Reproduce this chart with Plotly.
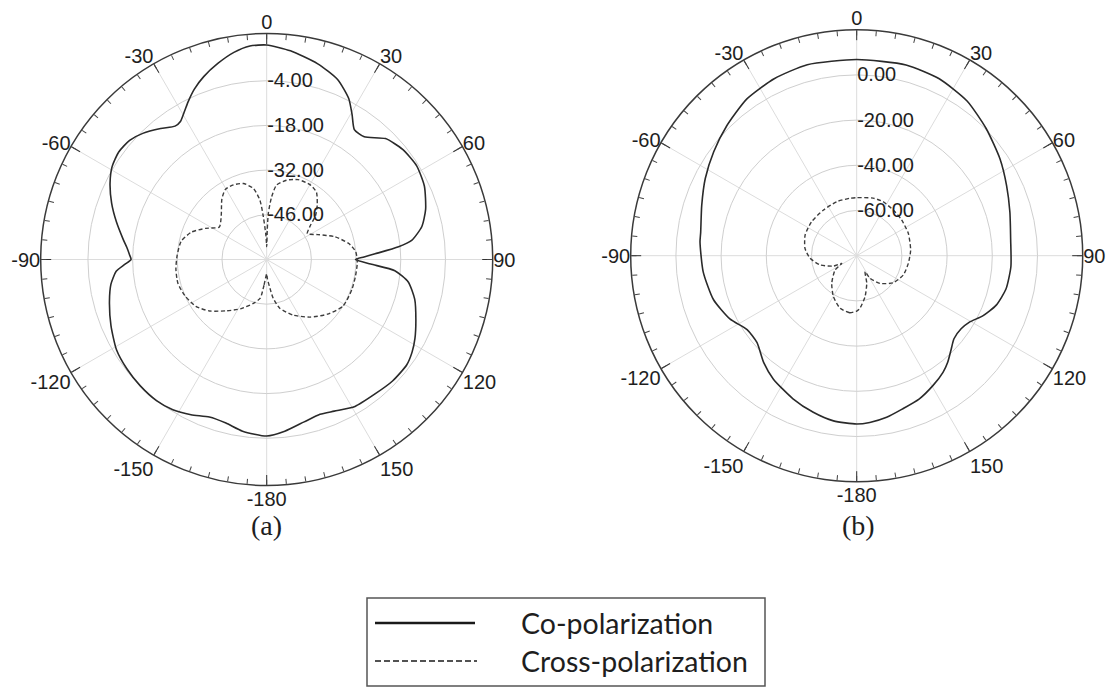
import plotly.graph_objects as go

# ---------------- data (angles in degrees, levels in dB) ----------------
co_a_theta = [-180, -172, -166, -160, -154, -148, -142, -135, -128, -121,
              -113, -105, -99, -94.5, -92, -90, -88, -85, -82, -76,
              -70, -64, -59, -54, -49, -44.5, -39, -34.5, -32, -29,
              -26.5, -23, -19, -14, -9, -4.5, 0, 6.5, 14.5, 21.5,
              27, 30.5, 34, 38.5, 44.5, 51, 58, 65, 72.5, 78,
              82.5, 84.5, 87, 88.5, 90, 92.5, 95, 99, 105, 112,
              118, 122.5, 127, 134, 141, 149, 156, 161, 167, 174, 180]
co_a_db = [-4.7, -5.7, -7.2, -7.5, -5.9, -4.5, -3.9, -4.0, -4.4, -5.1,
           -7.0, -9.0, -10.6, -12.7, -15.5, -17.5, -17.0, -16.0, -14.6, -11.5,
           -8.3, -5.4, -3.5, -2.7, -3.1, -4.6, -7.2, -9.3, -9.0, -6.9,
           -4.8, -2.0, 0.6, 3.3, 5.7, 7.1, 7.2, 5.8, 3.4, 0.6,
           -3.4, -7.3, -10.9, -10.9, -6.9, -5.2, -4.6, -5.5, -7.8, -10.3,
           -14.2, -18.5, -26.0, -29.5, -32.2, -27.4, -19.7, -15.1, -12.0, -9.6,
           -7.4, -6.0, -5.1, -5.2, -5.9, -6.3, -8.0, -8.7, -7.8, -5.9, -4.7]

cx_a_theta = [-180, -174, -170.5, -163, -152, -142, -132, -123.5, -114, -105,
              -96, -87.5, -78, -70, -63, -55.5, -46, -36.5, -30.5, -24,
              -17, -10.5, -6.5, -4.5, -1.7, 0, 1.1, 2, 4.5, 7.5,
              14, 21.5, 30, 36.5, 43, 48, 52, 57.5, 64, 71.5,
              79, 85, 92, 100.5, 109.5, 121.5, 132, 143, 154.5, 165,
              170.5, 173.5, 178, 180]
cx_a_db = [-55.5, -51.9, -47.7, -45.6, -42.5, -39.6, -35.9, -33.4, -32.0, -31.2,
           -31.4, -31.9, -32.6, -34.9, -38.5, -42.0, -40.2, -36.4, -34.5, -34.4,
           -35.1, -37.4, -41.3, -46.5, -52.7, -56.0, -50.6, -45.5, -40.3, -36.5,
           -34.4, -33.1, -32.9, -33.8, -36.8, -39.4, -42.6, -44.9, -42.2, -37.5,
           -33.8, -32.0, -31.6, -31.7, -31.7, -32.0, -34.4, -37.4, -40.7, -44.2,
           -47.7, -50.9, -54.0, -55.5]

co_b_theta = [-180, -172, -164.5, -156, -146, -139, -131, -124, -116.5, -107,
              -96, -85, -81.5, -72, -63, -54, -45, -35, -25, -14.5,
              0, 14.5, 25, 35.5, 45.5, 56, 65, 74, 84, 94,
              102.5, 109.5, 115.5, 120.5, 125, 130.5, 134.5, 139.5, 143.5, 149.5,
              156.5, 163.5, 169.5, 175.5, 180]
co_b_db = [-5.5, -6.2, -8.1, -10.7, -14.1, -17.3, -21.5, -21.5, -17.3, -13.7,
           -11.7, -10.4, -10.2, -7.9, -4.8, -1.8, 1.3, 4.7, 6.4, 7.3,
           6.8, 7.2, 6.4, 4.1, 0.3, -3.5, -6.8, -9.5, -11.5, -11.6,
           -12.3, -14.5, -18.2, -22.1, -23.6, -23.4, -21.3, -18.0, -15.8, -13.4,
           -10.8, -9.2, -7.3, -6.0, -5.5]

cx_b_theta = [-180, -173, -162.5, -150.5, -138, -123.5, -117, -114, -104, -93,
              -82, -68, -53, -36, -20, -6.5, 0, 16, 26, 41,
              51.5, 66.5, 84, 98.5, 112.5, 126.5, 140, 149.5, 152.5, 160,
              168.5, 176.5, 180]
cx_b_db = [-55.5, -54.6, -55.6, -59.1, -63.5, -68.5, -72.6, -68.7, -63.2, -59.3,
           -56.9, -55.4, -55.0, -55.0, -54.5, -54.4, -54.3, -53.5, -53.4, -54.2,
           -54.6, -55.1, -56.0, -56.9, -57.7, -59.9, -64.0, -68.4, -72.0, -67.0,
           -61.5, -56.7, -55.5]

angle_ticks = [0, 30, 60, 90, 120, 150, 180, 210, 240, 270, 300, 330]
angle_labels = ["0", "30", "60", "90", "120", "150", "-180", "-150", "-120", "-90", "-60", "-30"]
minor_ticks = list(range(0, 360, 5))

r_range_a = [-60, 10.8]
r_ticks_a = [-46, -32, -18, -4]
r_range_b = [-80, 20]
r_ticks_b = [-60, -40, -20, 0]

series_names = ["Co-polarization", "Cross-polarization"]
panel_labels = ["(a)", "(b)"]

# ---------------- figure ----------------
OFF = 8                      # page body margin of the browser
W, H = 1120 - OFF, 688 - OFF
CO_COLOR = "#2a2a2a"
CX_COLOR = "#3c3c3c"
TXT = "#1e1e1e"


def px(x):
    return (x - OFF) / W


def py(y):
    return 1 - (y - OFF) / H


def dom(cx, cy, R):
    return dict(x=[px(cx - R), px(cx + R)], y=[py(cy + R), py(cy - R)])


dom_a = dom(266.7, 259.5, 226)
dom_b = dom(856.7, 255.7, 226)

fig = go.Figure()

for sub, th, v in [("polar", co_a_theta, co_a_db), ("polar2", co_b_theta, co_b_db)]:
    fig.add_trace(go.Scatterpolar(r=v, theta=th, mode="lines", subplot=sub,
                                  line=dict(color=CO_COLOR, width=1.6, shape="spline", smoothing=0.6),
                                  name=series_names[0], showlegend=False, hoverinfo="skip"))
for sub, th, v in [("polar", cx_a_theta, cx_a_db), ("polar2", cx_b_theta, cx_b_db)]:
    fig.add_trace(go.Scatterpolar(r=v, theta=th, mode="lines", subplot=sub,
                                  line=dict(color=CX_COLOR, width=1.4, dash="4px,2.5px",
                                            shape="spline", smoothing=0.6),
                                  name=series_names[1], showlegend=False, hoverinfo="skip"))
# empty traces so the overlay (minor-tick) polars are rendered
for sub in ["polar3", "polar4"]:
    fig.add_trace(go.Scatterpolar(r=[], theta=[], subplot=sub, showlegend=False, hoverinfo="skip"))


def base_polar(d, rng, rticks):
    return dict(
        domain=d,
        bgcolor="white",
        angularaxis=dict(rotation=90, direction="clockwise", tickmode="array",
                         tickvals=angle_ticks, ticktext=angle_labels,
                         ticks="inside", ticklen=10, tickwidth=1.3, tickcolor="#333",
                         showline=False, showgrid=True, gridcolor="#dcdcdc", gridwidth=1,
                         tickfont=dict(family="Liberation Sans, Arial", size=20, color=TXT)),
        radialaxis=dict(range=rng, angle=90, tickangle=90, tickmode="array", tickvals=rticks,
                        ticktext=["%.2f" % t for t in rticks], showline=False, ticks="",
                        showgrid=True, gridcolor="#cfcfcf", gridwidth=1.3,
                        tickfont=dict(family="Liberation Sans, Arial", size=20, color=TXT)),
    )


def overlay_polar(d, rng):
    return dict(
        domain=d,
        bgcolor="rgba(0,0,0,0)",
        angularaxis=dict(rotation=90, direction="clockwise", tickmode="array",
                         tickvals=minor_ticks, ticks="inside", ticklen=5, tickwidth=1.1,
                         tickcolor="#444", showticklabels=False, showgrid=False,
                         showline=True, linecolor="#3a3a3a", linewidth=1.5),
        radialaxis=dict(range=rng, visible=False),
    )


fig.update_layout(
    width=W, height=H,
    margin=dict(l=0, r=0, t=0, b=0),
    paper_bgcolor="white",
    showlegend=False,
    polar=base_polar(dom_a, r_range_a, r_ticks_a),
    polar2=base_polar(dom_b, r_range_b, r_ticks_b),
    polar3=overlay_polar(dom_a, r_range_a),
    polar4=overlay_polar(dom_b, r_range_b),
)

# panel labels
for x, lab in [(266, panel_labels[0]), (858, panel_labels[1])]:
    fig.add_annotation(x=px(x), y=py(525), xref="paper", yref="paper", text=lab,
                       xanchor="center", yanchor="middle", showarrow=False,
                       font=dict(family="Liberation Serif, Times New Roman", size=28, color=TXT))

# legend box (drawn manually to match the long line samples)
fig.add_shape(type="rect", xref="paper", yref="paper",
              x0=px(367), x1=px(765), y0=py(686), y1=py(598),
              line=dict(color="#555", width=1.5), fillcolor="white")
fig.add_shape(type="line", xref="paper", yref="paper",
              x0=px(375), x1=px(475), y0=py(623), y1=py(623),
              line=dict(color="#1a1a1a", width=2.5))
fig.add_shape(type="line", xref="paper", yref="paper",
              x0=px(375), x1=px(477), y0=py(661), y1=py(661),
              line=dict(color="#1a1a1a", width=1.6, dash="6px,3px"))
for yy, name in [(623, series_names[0]), (661, series_names[1])]:
    fig.add_annotation(x=px(519), y=py(yy), xref="paper", yref="paper", text=name,
                       xanchor="left", yanchor="middle", showarrow=False,
                       font=dict(family="Lato, Open Sans, sans-serif", size=28.5, color=TXT))

fig.write_html("out.html")
